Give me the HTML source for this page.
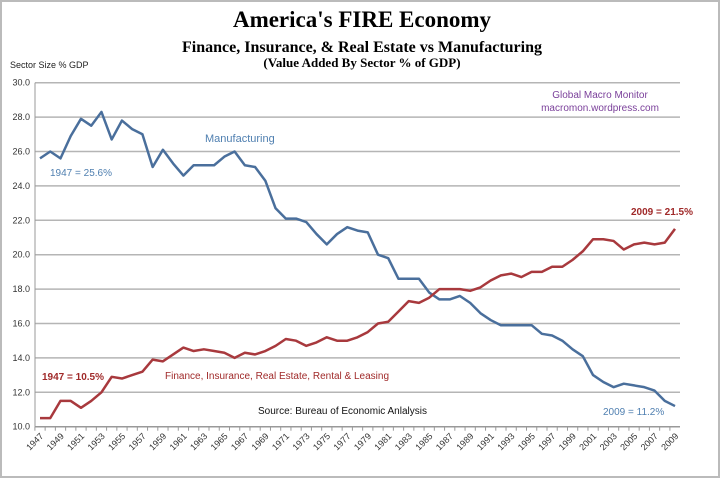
<!DOCTYPE html>
<html><head><meta charset="utf-8"><style>
html,body{margin:0;padding:0;background:#fff}
svg{display:block}
</style></head><body>
<svg id="chart" width="720" height="478" xmlns="http://www.w3.org/2000/svg" font-family="Liberation Sans, sans-serif">
<rect x="1" y="1" width="718" height="476" fill="#fff" stroke="#bbb" stroke-width="2"/>
<text x="362" y="27" text-anchor="middle" font-family="Liberation Serif, serif" font-weight="bold" font-size="23">America's FIRE Economy</text>
<text x="362" y="52" text-anchor="middle" font-family="Liberation Serif, serif" font-weight="bold" font-size="16">Finance, Insurance, &amp; Real Estate vs Manufacturing</text>
<text x="362" y="67" text-anchor="middle" font-family="Liberation Serif, serif" font-weight="bold" font-size="13">(Value Added By Sector % of GDP)</text>
<text x="10" y="68" font-size="9" fill="#222">Sector Size % GDP</text>
<g id="grid"></g><g id="yticks"></g><g id="xticks"></g><g id="series"></g>
<text x="600" y="98" text-anchor="middle" font-size="10" fill="#7a3f9a">Global Macro Monitor</text>
<text x="600" y="111" text-anchor="middle" font-size="10" fill="#7a3f9a">macromon.wordpress.com</text>
<text x="205" y="142" font-size="11" fill="#4f7fb0">Manufacturing</text>
<text x="50" y="176" font-size="10" fill="#4f7fb0">1947 = 25.6%</text>
<text x="603" y="415" font-size="10" fill="#4f7fb0">2009 = 11.2%</text>
<text x="165" y="379" font-size="10" fill="#a02a2a">Finance, Insurance, Real Estate, Rental  &amp; Leasing</text>
<text x="42" y="380" font-size="10" fill="#a02a2a" font-weight="bold">1947 = 10.5%</text>
<text x="631" y="215" font-size="10" fill="#a02a2a" font-weight="bold">2009 = 21.5%</text>
<text x="258" y="414" font-size="10" fill="#111">Source:  Bureau of Economic Anlalysis</text>
</svg>
<script>
const years = [];
for (let y = 1947; y <= 2009; y++) years.push(y);
const manufacturing = [25.6,26.0,25.6,26.9,27.9,27.5,28.3,26.7,27.8,27.3,27.0,25.1,26.1,25.3,24.6,25.2,25.2,25.2,25.7,26.0,25.2,25.1,24.3,22.7,22.1,22.1,21.9,21.2,20.6,21.2,21.6,21.4,21.3,20.0,19.8,18.6,18.6,18.6,17.8,17.4,17.4,17.6,17.2,16.6,16.2,15.9,15.9,15.9,15.9,15.4,15.3,15.0,14.5,14.1,13.0,12.6,12.3,12.5,12.4,12.3,12.1,11.5,11.2];
const fire = [10.5,10.5,11.5,11.5,11.1,11.5,12.0,12.9,12.8,13.0,13.2,13.9,13.8,14.2,14.6,14.4,14.5,14.4,14.3,14.0,14.3,14.2,14.4,14.7,15.1,15.0,14.7,14.9,15.2,15.0,15.0,15.2,15.5,16.0,16.1,16.7,17.3,17.2,17.5,18.0,18.0,18.0,17.9,18.1,18.5,18.8,18.9,18.7,19.0,19.0,19.3,19.3,19.7,20.2,20.9,20.9,20.8,20.3,20.6,20.7,20.6,20.7,21.5];
const yTicks = [10,12,14,16,18,20,22,24,26,28,30];
const NS = 'http://www.w3.org/2000/svg';
const X0 = 40, X1 = 675, Y0 = 426.7, Y1 = 82.7, GL = 35, GR = 680;
const xs = y => X0 + (y - years[0]) / (years[years.length-1] - years[0]) * (X1 - X0);
const ys = v => Y0 - (v - 10) / 20 * (Y0 - Y1);
function mk(tag, attrs, parent) {
  const e = document.createElementNS(NS, tag);
  for (const k in attrs) e.setAttribute(k, attrs[k]);
  parent.appendChild(e);
  return e;
}
const grid = document.getElementById('grid'), yt = document.getElementById('yticks'), xt = document.getElementById('xticks'), ser = document.getElementById('series');
yTicks.forEach(v => {
  const l = mk('line', {x1: GL, x2: GR, y1: ys(v), y2: ys(v), stroke: v === 10 ? '#999' : '#b5b5b5', 'stroke-width': 1.5}, grid);
  
  
  const t = mk('text', {x: 30, y: ys(v) + 3, 'text-anchor': 'end', 'font-size': 9, fill: '#333'}, yt);
  t.textContent = v.toFixed(1);
  
  
});
mk('line', {x1: GL, x2: GL, y1: Y1, y2: Y0, stroke: '#999'}, grid);
years.forEach((yr, i) => {
  const x = xs(yr) - 5.1;
  mk('line', {x1: x, x2: x, y1: Y0, y2: Y0 + 4, stroke: '#999'}, xt);
  if (i % 2 === 0) {
    const t = mk('text', {x: 0, y: 0, 'text-anchor': 'end', 'font-size': 9, fill: '#333', transform: `translate(${xs(yr)+4},${Y0+10}) rotate(-45)`}, xt);
    t.textContent = yr;
    
    
  }
});
function line(vals, color, name) {
  const p = mk('polyline', {points: vals.map((v, i) => xs(years[i]) + ',' + ys(v)).join(' '), fill: 'none', stroke: color, 'stroke-width': 2.5, 'stroke-linejoin': 'round'}, ser);
  
  
}
line(manufacturing, '#4a6f9c', 'manufacturing-line');
line(fire, '#a8393d', 'fire-line');
</script>
</body></html>
